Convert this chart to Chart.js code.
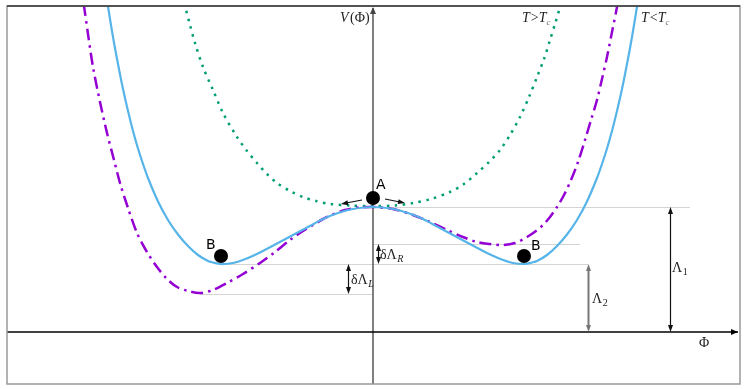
<!DOCTYPE html>
<html>
<head>
<meta charset="utf-8">
<script src="https://cdn.jsdelivr.net/npm/chart.js@4"></script>
<style>
html,body{margin:0;padding:0;background:#fff;}
#wrap{width:748px;height:389px;position:relative;}
</style>
</head>
<body>
<div id="wrap"><canvas id="c" width="748" height="389"></canvas></div>
<script>
// Field value Φ (x) and potential V(Φ) (y)
// T < Tc (solid blue)
const phiBelow = [-270,-265,-260,-255,-250,-245,-240,-235,-230,-225,-215,-205,-195,-185,-175,-165,-160,-153,-140,-125,-110,-95,-80,-65,-50,-35,-20,0,
                  20,35,50,65,80,95,110,125,140,152,159,164,174,184,194,204,214,224,229,234,239,244,249,254,259,264,269];
const vBelow   = [358,325.5,295,268,243,221,201,183.5,168,154,130.5,112,97.5,86,77,71,69.5,68,69,74,81,89,97,105,113,119,123,125,
                  123,119,113,105,97,89,81,74,69,68,69.5,71,77,86,97.5,112,130.5,154,168,183.5,201,221,243,268,295,325.5,358];

// intermediate temperature (dash-dot purple)
const phiMid = [-293,-289,-285,-280,-273,-266,-259,-253,-245,-236,-226,-216,-206,-196,-185,-173,-160,-146,-130,-113,-98,-83,-70,-60,-46,-28,-14,0,
                20,40,57,74,90,104,117,130,142,154,163,170,177,184,191,198,205,212,218,224,229,234,239,244,248];
const vMid   = [352,326,298,265,230,199,172,149,124,99,80,65,53,45,41,39,42,49,58,69,80,92,101,107,115,122,124.5,125,
                123,117,110,102,95,90,88,87,89,95,101,107,115,125,137,152,170,192,212,232,253,275,300,325,350];

// T > Tc (dotted green)
const phiAbove = [-195,-188,-183,-178,-170,-160,-150,-136,-126,-116,-106,-96,-83,-70,-57,-43,-22,0,
                  22,40,58,77,91,104,116,127,137,147,156,164,171,177,182,187,194];
const vAbove   = [352,326,307,289,265,242,219,195,181,169,158,149,141,135,131,128,126.5,126,
                  126.5,129,133,140,148,159,170,182,197,215,235,255,273,292,308,325,352];

// Key levels of the potential
const levelA = 125;      // false vacuum (A)
const levelR = 88;       // right minimum of dash-dot curve
const levelB = 68;       // true vacuum (B)
const levelL = 38;       // left minimum of dash-dot curve
const phiB = [-152, 151];

const pts = (xs, ys) => xs.map((x, i) => ({x, y: ys[i]}));

const overlay = {
  id: 'overlay',
  beforeDatasetsDraw(chart) {
    const {ctx, chartArea: a, scales: {x, y}} = chart;
    const X = v => x.getPixelForValue(v), Y = v => y.getPixelForValue(v);
    ctx.save();
    // guide lines
    ctx.strokeStyle = '#d4d4d4'; ctx.lineWidth = 1;
    const hl = (y0, x0, x1) => { ctx.beginPath(); ctx.moveTo(X(x0), Math.round(Y(y0))+0.5); ctx.lineTo(X(x1), Math.round(Y(y0))+0.5); ctx.stroke(); };
    hl(levelA, 0, 317);
    hl(levelR, 0, 207);
    hl(levelB, phiB[0], 215);
    hl(levelL, -173, 0);
    // axes
    ctx.strokeStyle = '#555'; ctx.lineWidth = 1.5;
    ctx.beginPath(); ctx.moveTo(X(0), a.bottom); ctx.lineTo(X(0), a.top + 2); ctx.stroke();
    ctx.strokeStyle = '#000'; ctx.lineWidth = 1.3;
    ctx.beginPath(); ctx.moveTo(a.left, Y(0)); ctx.lineTo(a.right - 2, Y(0)); ctx.stroke();
    ctx.fillStyle = '#000';
    ctx.beginPath(); ctx.moveTo(a.right - 2, Y(0)); ctx.lineTo(a.right - 9, Y(0) - 3); ctx.lineTo(a.right - 9, Y(0) + 3); ctx.closePath(); ctx.fill();
    ctx.fillStyle = '#444';
    ctx.beginPath(); ctx.moveTo(X(0), a.top + 1); ctx.lineTo(X(0) - 3, a.top + 8); ctx.lineTo(X(0) + 3, a.top + 8); ctx.closePath(); ctx.fill();
    ctx.restore();
  },
  afterDatasetsDraw(chart) {
    const {ctx, chartArea: a, scales: {x, y}} = chart;
    const X = v => x.getPixelForValue(v), Y = v => y.getPixelForValue(v);
    ctx.save();
    // frame
    ctx.lineWidth = 1.5;
    ctx.strokeStyle = '#999';
    ctx.strokeRect(a.left, a.top, a.right - a.left, a.bottom - a.top);
    ctx.strokeStyle = '#333';
    ctx.beginPath(); ctx.moveTo(a.left, a.top); ctx.lineTo(a.right, a.top); ctx.stroke();

    const head = (x0, y0, dx, dy, len, w, col) => {
      const L = Math.hypot(dx, dy), ux = dx / L, uy = dy / L;
      ctx.fillStyle = col;
      ctx.beginPath();
      ctx.moveTo(x0, y0);
      ctx.lineTo(x0 - ux*len - uy*w, y0 - uy*len + ux*w);
      ctx.lineTo(x0 - ux*len + uy*w, y0 - uy*len - ux*w);
      ctx.closePath(); ctx.fill();
    };
    const dbl = (px, y0, y1, col, lw) => {
      const p = Math.round(px) + 0.5, a0 = Y(y0), a1 = Y(y1);
      ctx.strokeStyle = col; ctx.lineWidth = lw;
      ctx.beginPath(); ctx.moveTo(p, a0 - 4); ctx.lineTo(p, a1 + 4); ctx.stroke();
      head(p, a1, 0, -1, 7, 2.5, col);
      head(p, a0, 0, 1, 7, 2.5, col);
    };
    dbl(X(297), 0, levelA, '#111', 1.2);
    dbl(X(215), 0, levelB, '#777', 2);
    dbl(X(5), levelB, levelR, '#111', 1.2);
    dbl(X(-25), levelL, levelB, '#111', 1.2);

    // arrows from A
    const arr = (x0, y0, x1, y1) => {
      ctx.strokeStyle = '#111'; ctx.lineWidth = 1.2;
      const dx = X(x1) - X(x0), dy = Y(y1) - Y(y0), L = Math.hypot(dx, dy);
      ctx.beginPath(); ctx.moveTo(X(x0), Y(y0)); ctx.lineTo(X(x1) - dx/L*4, Y(y1) - dy/L*4); ctx.stroke();
      head(X(x1), Y(y1), dx, dy, 7, 2.5, '#111');
    };
    arr(-11, 132, -32, 128);
    arr(12, 133, 32, 129);

    // balls
    ctx.fillStyle = '#000';
    const ball = (bx, by) => { ctx.beginPath(); ctx.arc(X(bx), Y(by), 7, 0, Math.PI*2); ctx.fill(); };
    ball(0, levelA + 9);
    ball(phiB[0], levelB + 8);
    ball(phiB[1], levelB + 8);

    // text
    ctx.fillStyle = '#000';
    ctx.textBaseline = 'alphabetic';
    ctx.font = '14px "DejaVu Sans"';
    ctx.textAlign = 'left';
    ctx.fillText('A', 376, 189);
    ctx.fillText('B', 206, 249);
    ctx.fillText('B', 531, 250);

    const serif = '"Liberation Serif"';
    const sub = (base, s, x0, yb, size, col, italicBase) => {
      ctx.fillStyle = col || '#222';
      ctx.font = (italicBase ? 'italic ' : '') + size + 'px ' + serif;
      ctx.fillText(base, x0, yb);
      const w = ctx.measureText(base).width;
      ctx.font = (isNaN(+s) ? 'italic ' : '') + Math.round(size*0.72) + 'px ' + serif;
      ctx.fillText(s, x0 + w + 0.5, yb + 3);
    };
    sub('\u039B', '1', 672, 272, 14);
    sub('\u039B', '2', 592, 303, 14);
    sub('\u03B4\u039B', 'R', 380, 259, 14);
    sub('\u03B4\u039B', 'L', 351, 284, 14);

    ctx.fillStyle = '#222';
    ctx.font = '14px ' + serif;
    ctx.fillText('\u03A6', 699, 347);
    // V(Φ)
    ctx.font = 'italic 14px ' + serif;
    ctx.fillText('V', 340, 22);
    ctx.font = '14px ' + serif;
    ctx.fillText('(\u03A6)', 350, 22);
    // T>Tc, T<Tc
    const tt = (op, x0) => {
      ctx.font = 'italic 14px ' + serif; ctx.fillText('T', x0, 22);
      let w = ctx.measureText('T').width + 1;
      ctx.font = '14px ' + serif; ctx.fillText(op, x0 + w, 22);
      w += ctx.measureText(op).width;
      ctx.font = 'italic 14px ' + serif; ctx.fillText('T', x0 + w, 22);
      w += ctx.measureText('T').width;
      ctx.font = 'italic 9px ' + serif; ctx.fillStyle = '#777'; ctx.fillText('c', x0 + w, 25); ctx.fillStyle = '#222';
    };
    tt('>', 522);
    tt('<', 641);
    ctx.restore();
  }
};

new Chart(document.getElementById('c'), {
  type: 'scatter',
  data: {
    datasets: [
      { label: 'T>Tc', data: pts(phiAbove, vAbove), showLine: true, borderColor: '#009E73', borderWidth: 2.5,
        borderDash: [2.5, 5.5], borderCapStyle: 'butt', pointRadius: 0, tension: 0.3, order: 3 },
      { label: 'intermediate', data: pts(phiMid, vMid), showLine: true, borderColor: '#9400D3', borderWidth: 2.5,
        borderDash: [12, 5, 2.5, 5], pointRadius: 0, tension: 0.3, order: 2 },
      { label: 'T<Tc', data: pts(phiBelow, vBelow), showLine: true, borderColor: '#56B4E9', borderWidth: 2.2,
        pointRadius: 0, tension: 0.3, order: 1 }
    ]
  },
  options: {
    responsive: false, animation: false, events: [],
    layout: { padding: { left: 7, top: 6, right: 8, bottom: 5 } },
    plugins: { legend: { display: false }, tooltip: { enabled: false } },
    scales: {
      x: { type: 'linear', min: -366, max: 367, display: false },
      y: { type: 'linear', min: -52, max: 326, display: false }
    }
  },
  plugins: [overlay]
});
</script>
</body>
</html>
